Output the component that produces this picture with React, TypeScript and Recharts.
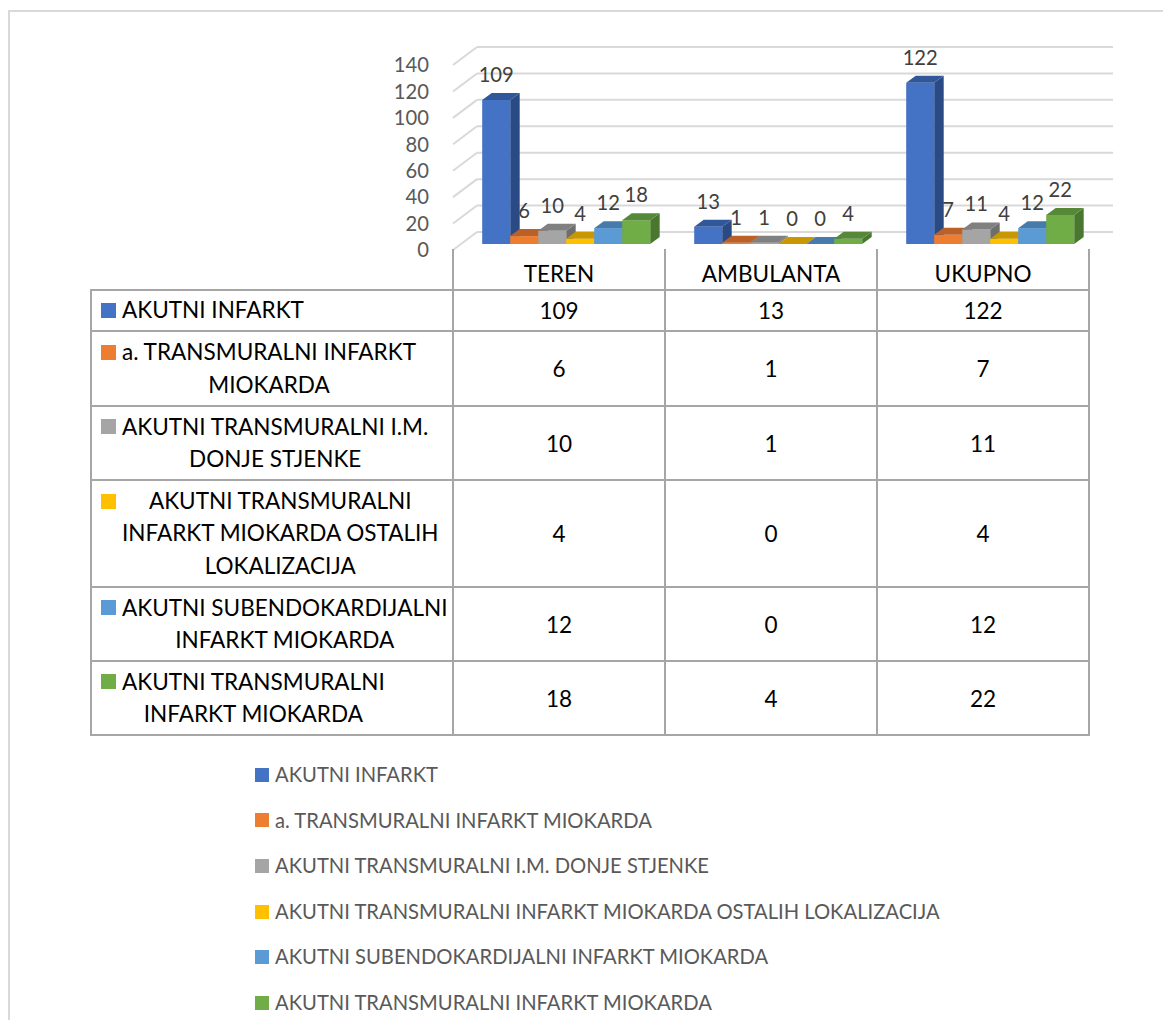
import React from 'react';
import { BarChart, Bar, XAxis, YAxis, CartesianGrid, ReferenceLine, LabelList, Legend } from 'recharts';

// ---------- data ----------
const categories = ['TEREN', 'AMBULANTA', 'UKUPNO'];
const seriesNames = [
  'AKUTNI INFARKT',
  'a. TRANSMURALNI INFARKT MIOKARDA',
  'AKUTNI TRANSMURALNI I.M. DONJE STJENKE',
  'AKUTNI TRANSMURALNI INFARKT MIOKARDA OSTALIH LOKALIZACIJA',
  'AKUTNI SUBENDOKARDIJALNI INFARKT MIOKARDA',
  'AKUTNI TRANSMURALNI INFARKT MIOKARDA',
];
const akutniInfarkt = [109, 13, 122];
const aTransmuralni = [6, 1, 7];
const donjeStjenke = [10, 1, 11];
const ostalihLokalizacija = [4, 0, 4];
const subendokardijalni = [12, 0, 12];
const transmuralniMiokarda = [18, 4, 22];
const seriesValues = [akutniInfarkt, aTransmuralni, donjeStjenke, ostalihLokalizacija, subendokardijalni, transmuralniMiokarda];
const yTicks = [0, 20, 40, 60, 80, 100, 120, 140];

// ---------- style ----------
const frontColors = ['#4472C4', '#ED7D31', '#A5A5A5', '#FFC000', '#5B9BD5', '#70AD47'];
const topColors = ['#31579b', '#bb6127', '#808080', '#c99800', '#477bab', '#558937'];
const sideColors = ['#2a4a85', '#a4541f', '#6e6e6e', '#ad8300', '#3c6993', '#4a772f'];

const FONT = "Lato, 'Noto Sans', sans-serif";
let ctx: any = null;
function measure(text: string, size: number) {
  if (!ctx) ctx = document.createElement('canvas').getContext('2d');
  ctx.font = `${size}px ${FONT}`;
  return ctx.measureText(text).width;
}
function fit(text: string, target: number) {
  return (100 * target) / measure(text, 100);
}
function wrap(text: string, size: number, maxW: number) {
  const words = text.split(' ');
  const lines: string[] = [];
  let cur = '';
  for (const w of words) {
    const t = cur ? cur + ' ' + w : w;
    if (cur && measure(t, size) > maxW) {
      lines.push(cur);
      cur = w;
    } else cur = t;
  }
  if (cur) lines.push(cur);
  return lines;
}

const TABLE_FS = fit('AKUTNI INFARKT', 182);
const LEGEND_FS = fit('AKUTNI INFARKT', 163);
const LABEL_FS = LEGEND_FS;
const CAP = 0.36;

const W = 1155;
const H = 1012;
const MARGIN = { top: 51, right: 66, bottom: 736, left: 393 };
const Y_AXIS_W = 60;
const X_AXIS_H = 40;
const PLOT_LEFT = MARGIN.left + Y_AXIS_W;
const PLOT_W = W - PLOT_LEFT - MARGIN.right;
const FRONT_DX = -8;
const FRONT_DY = 6;
const BACK_DX = 16;
const BACK_DY = -12;
const DEPTH_X = 9.5;
const DEPTH_Y = 7;

const LABEL_COL_LEFT = 83;
const HEADER_TOP = H - MARGIN.bottom - X_AXIS_H + FRONT_DY; // front floor edge
const HEADER_H = 40;
const rowHeights = [41, 75, 74, 107, 74, 74];
const LINE_H = 32.5;
const TABLE_LINE = '#a6a6a6';

const chartData = categories.map((cat, ci) => {
  const row: any = { cat };
  seriesValues.forEach((vals, si) => {
    row[`s${si}`] = vals[ci];
  });
  return row;
});

function Bar3D(props: any) {
  const { x, y, width, height, si } = props;
  if (x == null || y == null) return null;
  const h = Math.max(height || 0, 0);
  const x0 = x;
  const x1 = x + width;
  const y0 = y;
  const y1 = y + h;
  return (
    <g>
      <polygon points={`${x1},${y0} ${x1 + DEPTH_X},${y0 - DEPTH_Y} ${x1 + DEPTH_X},${y1 - DEPTH_Y} ${x1},${y1}`} fill={sideColors[si]} />
      <rect x={x0} y={y0} width={width} height={h} fill={frontColors[si]} />
      <polygon points={`${x0},${y0} ${x0 + DEPTH_X},${y0 - DEPTH_Y} ${x1 + DEPTH_X},${y0 - DEPTH_Y} ${x1},${y0}`} fill={topColors[si]} />
    </g>
  );
}

function ValueLabel(props: any) {
  const vb = props.viewBox && props.viewBox.x != null ? props.viewBox : props;
  const { x, y, width } = vb;
  if (x == null) return null;
  return (
    <text x={x + width / 2} y={y - 18} textAnchor="middle" fill="#404040" fontSize={LABEL_FS} fontFamily={FONT}>
      {props.value}
    </text>
  );
}

function YTick(props: any) {
  const { x, y, payload } = props;
  return (
    <text x={x} y={y + FRONT_DY + CAP * LABEL_FS} textAnchor="end" fill="#595959" fontSize={LABEL_FS} fontFamily={FONT}>
      {payload.value}
    </text>
  );
}

function XTick(props: any) {
  const { x, y, payload } = props;
  return (
    <text x={x + FRONT_DX} y={y + FRONT_DY + HEADER_H * 0.6 + CAP * TABLE_FS} textAnchor="middle" fill="#000" fontSize={TABLE_FS} fontFamily={FONT}>
      {payload.value}
    </text>
  );
}

function LegendContent(props: any) {
  const payload = [...(props.payload || [])].sort(
    (a: any, b: any) => seriesNames.indexOf(a.value) - seriesNames.indexOf(b.value)
  );
  return (
    <div style={{ fontFamily: FONT }}>
      {payload.map((e: any, i: number) => (
        <div key={i} style={{ display: 'flex', alignItems: 'center', height: 45.6 }}>
          <div style={{ width: 14, height: 14, background: e.color, marginRight: 6, flex: 'none' }} />
          <span style={{ fontSize: LEGEND_FS, color: '#595959', whiteSpace: 'nowrap', lineHeight: '45.6px' }}>{e.value}</span>
        </div>
      ))}
    </div>
  );
}

function DataTable() {
  const catW = PLOT_W / categories.length;
  const frontLeft = PLOT_LEFT + FRONT_DX;
  const colLefts = [LABEL_COL_LEFT, ...categories.map((_, i) => frontLeft + i * catW)];
  const tableRight = frontLeft + categories.length * catW;
  const tableTop = HEADER_TOP + HEADER_H;
  const rowTops: number[] = [];
  let acc = tableTop;
  rowHeights.forEach((h) => {
    rowTops.push(acc);
    acc += h;
  });
  const tableBottom = acc;
  const els: any[] = [];
  [...rowTops, tableBottom].forEach((yy, i) => {
    els.push(<div key={`h${i}`} style={{ position: 'absolute', left: LABEL_COL_LEFT - 1, top: yy - 1, width: tableRight - LABEL_COL_LEFT + 2, height: 2, background: TABLE_LINE }} />);
  });
  colLefts.forEach((xx, i) => {
    const top = i === 0 ? tableTop : HEADER_TOP;
    els.push(<div key={`v${i}`} style={{ position: 'absolute', left: xx - 1, top: top - 1, width: 2, height: tableBottom - top + 2, background: TABLE_LINE }} />);
  });
  els.push(<div key="vend" style={{ position: 'absolute', left: tableRight - 1, top: HEADER_TOP - 1, width: 2, height: tableBottom - HEADER_TOP + 2, background: TABLE_LINE }} />);
  seriesNames.forEach((name, si) => {
    const lines = wrap(name, TABLE_FS, 328);
    els.push(
      <div key={`l${si}`} style={{ position: 'absolute', left: LABEL_COL_LEFT, top: rowTops[si], width: frontLeft - LABEL_COL_LEFT, height: rowHeights[si], display: 'flex', alignItems: 'center' }}>
        <div style={{ display: 'flex', alignItems: 'flex-start', paddingLeft: 10 }}>
          <div style={{ width: 15, height: 15, background: frontColors[si], marginTop: (LINE_H - 15) / 2, marginRight: 6, flex: 'none' }} />
          <div style={{ display: 'inline-block', textAlign: 'center' }}>
            {lines.map((ln, li) => (
              <div key={li} style={{ fontSize: TABLE_FS, lineHeight: `${LINE_H}px`, color: '#000', whiteSpace: 'nowrap' }}>{ln}</div>
            ))}
          </div>
        </div>
      </div>
    );
    categories.forEach((_, ci) => {
      els.push(
        <div key={`c${si}-${ci}`} style={{ position: 'absolute', left: colLefts[ci + 1], top: rowTops[si], width: catW, height: rowHeights[si], display: 'flex', alignItems: 'center', justifyContent: 'center', fontSize: TABLE_FS, color: '#000' }}>
          {seriesValues[si][ci]}
        </div>
      );
    });
  });
  return <>{els}</>;
}

export default function App() {
  const gridGen = ({ yAxis, offset }: any) =>
    yTicks.map((v) => {
      const base = yAxis && typeof yAxis.scale === 'function' ? yAxis.scale(v) : offset.top + offset.height * (1 - v / 140);
      return base + BACK_DY;
    });
  return (
    <div style={{ position: 'relative', width: W, height: H, overflow: 'hidden', fontFamily: FONT }}>
      <div style={{ position: 'absolute', left: 0, top: 2, width: W + 10, height: H + 10, borderTop: '2px solid #d9d9d9', borderLeft: '2px solid #d9d9d9', boxSizing: 'border-box' }} />
      <BarChart width={W} height={H} data={chartData} margin={MARGIN} barCategoryGap="10%" barGap={0}>
        <CartesianGrid
          vertical={false}
          stroke="#d9d9d9"
          strokeWidth={2}
          x={PLOT_LEFT + BACK_DX}
          width={PLOT_W}
          y={0}
          height={300}
          horizontalCoordinatesGenerator={gridGen}
        />
        <XAxis dataKey="cat" axisLine={false} tickLine={false} tickSize={0} tickMargin={0} height={X_AXIS_H} tick={<XTick />} interval={0} />
        <YAxis
          type="number"
          domain={[0, 140]}
          ticks={yTicks}
          interval={0}
          width={Y_AXIS_W}
          axisLine={false}
          tickLine={false}
          tickSize={0}
          tickMargin={32}
          tick={<YTick />}
        />
        {yTicks.map((v) => (
          <ReferenceLine
            key={`d${v}`}
            y={v}
            stroke="#d9d9d9"
            shape={(p: any) => (
              <line x1={p.x1 + FRONT_DX} y1={p.y1 + FRONT_DY} x2={p.x1 + BACK_DX} y2={p.y1 + BACK_DY} stroke="#d9d9d9" strokeWidth={2} />
            )}
          />
        ))}
        {seriesNames.map((name, si) => (
          <Bar key={si} dataKey={`s${si}`} name={name} fill={frontColors[si]} isAnimationActive={false} shape={(p: any) => <Bar3D {...p} si={si} />}>
            <LabelList dataKey={`s${si}`} content={<ValueLabel />} />
          </Bar>
        ))}
        <Legend layout="vertical" align="center" verticalAlign="middle" wrapperStyle={{ top: 744, left: 247, width: 800 }} content={<LegendContent />} />
      </BarChart>
      <DataTable />
    </div>
  );
}
